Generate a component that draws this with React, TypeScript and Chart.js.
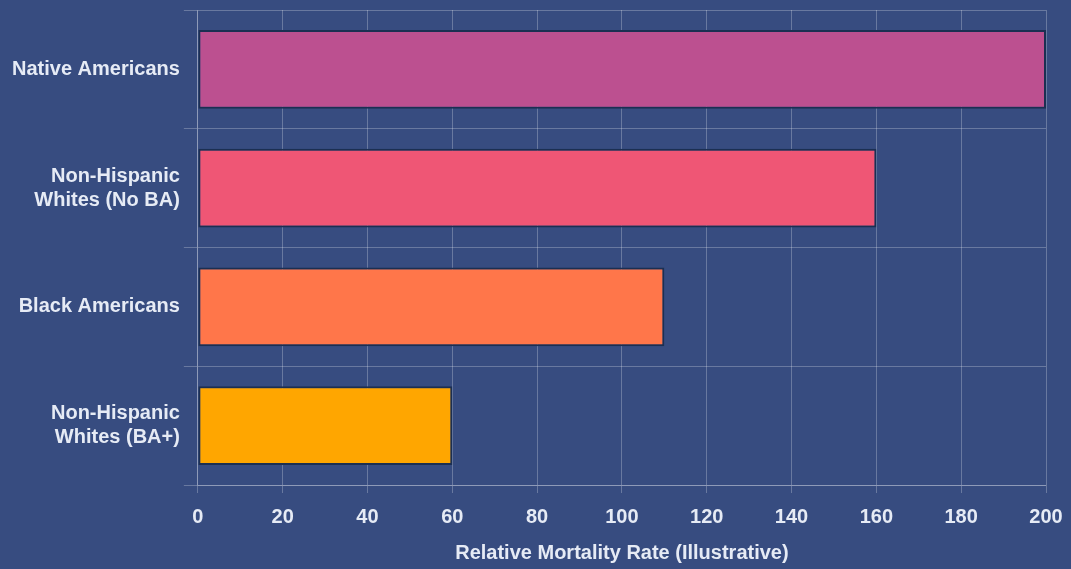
import React, { useEffect, useRef } from "react";
import { Chart, registerables } from "chart.js";

Chart.register(...registerables);

const categories: (string | string[])[] = [
  "Native Americans",
  ["Non-Hispanic", "Whites (No BA)"],
  "Black Americans",
  ["Non-Hispanic", "Whites (BA+)"],
];
const mortalityValues = [200, 160, 110, 60];
const barColors = ["#bc5090", "#ef5675", "#ff764a", "#ffa600"];
const xTicks = [0, 20, 40, 60, 80, 100, 120, 140, 160, 180, 200];
const xTitle = "Relative Mortality Rate (Illustrative)";

export default function App() {
  const ref = useRef<HTMLCanvasElement>(null);
  useEffect(() => {
    document.body.style.margin = "0";
    document.body.style.background = "#374c80";
    const font = "Arial, 'Liberation Sans', sans-serif";
    const chart = new Chart(ref.current!, {
      type: "bar",
      data: {
        labels: categories as any,
        datasets: [
          {
            data: mortalityValues,
            backgroundColor: barColors,
            borderColor: "#1b2f52",
            borderWidth: 2,
            borderSkipped: false,
            barPercentage: 0.7,
            categoryPercentage: 0.95,
          },
        ],
      },
      options: {
        indexAxis: "y",
        animation: false,
        responsive: false,
        layout: { padding: { top: 10, right: 25, left: 8, bottom: 4 } },
        plugins: { legend: { display: false }, tooltip: { enabled: false } },
        scales: {
          x: {
            min: 0,
            max: 200,
            afterBuildTicks: (axis: any) => {
              axis.ticks = xTicks.map((v) => ({ value: v }));
            },
            afterFit: (scale: any) => {
              scale.paddingRight = 0;
            },
            grid: { color: "rgba(255,255,255,0.25)", tickLength: 8 },
            border: { color: "rgba(255,255,255,0.25)" },
            ticks: {
              color: "#e6ebf5",
              font: { family: font, size: 20, weight: "bold" },
              padding: 12,
            },
            title: {
              display: true,
              text: xTitle,
              color: "#e6ebf5",
              font: { family: font, size: 20, weight: "bold" },
              padding: { top: 0, bottom: 0 },
            },
          },
          y: {
            afterFit: (scale: any) => {
              scale.paddingTop = 0;
              scale.paddingBottom = 0;
            },
            grid: { color: "rgba(255,255,255,0.25)", tickLength: 14, offset: true },
            border: { color: "rgba(255,255,255,0.25)" },
            ticks: {
              color: "#e6ebf5",
              font: { family: font, size: 20, weight: "bold" },
              padding: 4,
            },
          },
        },
      },
    });
    return () => chart.destroy();
  }, []);
  return <canvas ref={ref} width={1071} height={569} style={{ display: "block" }} />;
}
